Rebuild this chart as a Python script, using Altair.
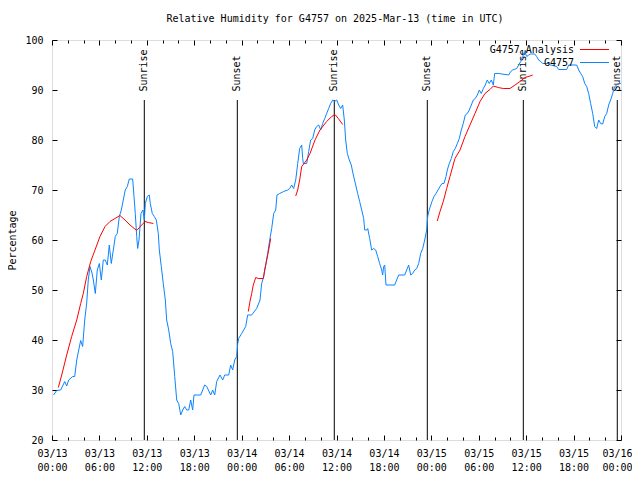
import altair as alt
import pandas as pd

# ---- data (hours since 2025-03-13 00:00 UTC, relative humidity %) ----
obs_hours = [0.2, 0.59, 1.10, 1.61, 1.86, 2.11, 2.62, 2.87, 3.13, 3.38, 3.63, 3.88, 4.14, 4.39, 4.59, 4.81,
             5.06, 5.23, 5.48, 5.73, 5.99, 6.24, 6.49, 6.74, 7.00, 7.25, 7.50, 7.76, 8.01, 8.26, 8.52, 8.77,
             9.02, 9.27, 9.53, 9.78, 10.21, 10.38, 10.54, 10.72, 10.84, 11.01, 11.26, 11.51, 11.68, 11.81,
             12.06, 12.31, 12.44, 12.69, 12.94, 13.20, 13.45, 13.58, 13.83, 14.08, 14.34, 14.51, 14.77,
             15.02, 15.27, 15.53, 15.78, 16.03, 16.29, 16.54, 16.79, 17.04, 17.30, 17.55, 17.80, 17.97,
             18.82, 19.32, 19.58, 20.08, 20.33, 20.59, 20.84, 21.26, 21.60, 21.85, 22.36, 22.61, 22.86,
             23.12, 23.37, 23.50, 23.62, 24.00, 24.51, 24.76, 25.26, 25.90, 26.32, 26.53, 26.79, 27.04,
             27.29, 27.55, 27.80, 28.05, 28.31, 28.47, 28.81, 29.32, 29.82, 30.08, 30.33, 30.58, 30.84,
             31.09, 31.34, 31.60, 31.72, 31.80, 32.23, 32.48, 32.73, 32.99, 33.24, 33.49, 33.75, 34.00,
             34.25, 34.51, 34.76, 35.01, 35.26, 35.52, 35.77, 36.02, 36.28, 36.53, 36.78, 36.99, 37.16,
             37.37, 37.62, 37.87, 38.13, 38.43, 38.68, 38.93, 39.19, 39.44, 39.57, 39.82, 39.95, 40.20,
             40.45, 40.71, 40.96, 41.21, 41.46, 41.72, 41.84, 41.97, 42.10, 42.26, 43.36, 43.61, 43.87,
             44.63, 44.88, 45.13, 45.39, 45.64, 45.89, 46.15, 46.40, 46.65, 46.91, 47.16, 47.41, 47.54,
             47.67, 47.83, 48.08, 48.34, 48.59, 48.84, 49.10, 49.35, 49.60, 49.86, 50.02, 50.27, 50.53,
             50.78, 51.03, 51.29, 51.54, 51.79, 52.04, 52.30, 52.55, 52.80, 53.06, 53.31, 53.56, 53.82,
             54.07, 54.32, 54.58, 54.83, 55.08, 55.33, 55.59, 55.84, 56.02, 56.52, 57.79, 58.04, 58.29,
             58.80, 59.05, 59.31, 59.56, 59.81, 60.07, 60.32, 60.57, 61.08, 61.33, 61.58, 61.84, 62.09,
             62.85, 63.10, 63.86, 64.11, 65.13, 65.38, 66.39, 66.65, 66.90, 67.15, 67.41, 67.66, 67.91,
             68.16, 68.42, 68.67, 68.92, 69.18, 69.43, 69.68, 69.94, 70.19, 70.44, 70.69, 70.95, 71.20,
             71.45, 71.71, 71.96]
obs_values = [29.0, 29.9, 30.0, 31.7, 30.8, 32.0, 32.7, 32.7, 36.0, 38.0, 39.9, 38.7, 44.0, 47.4, 52.0, 54.7,
              53.4, 52.0, 49.3, 54.0, 55.3, 52.0, 56.0, 56.0, 55.0, 59.0, 55.3, 58.0, 60.7, 61.3, 64.7, 66.0,
              68.0, 70.0, 70.7, 72.2, 72.2, 68.7, 65.3, 60.7, 58.3, 60.0, 65.3, 66.0, 64.0, 67.3,
              68.7, 69.0, 67.3, 65.3, 64.7, 64.0, 61.3, 58.0, 54.7, 51.3, 48.0, 44.0, 42.0,
              39.3, 37.7, 32.7, 28.0, 27.3, 25.0, 26.0, 26.7, 26.0, 26.0, 28.0, 26.0, 29.0,
              29.0, 31.0, 30.7, 29.0, 30.0, 29.0, 31.7, 33.0, 32.0, 33.0, 33.0, 35.0, 34.0,
              36.0, 36.7, 39.3, 40.3, 41.3, 42.7, 45.0, 45.0, 46.3, 48.0, 51.3, 52.7, 55.0,
              57.3, 60.0, 62.3, 65.3, 66.0, 69.0, 69.3, 69.7, 70.0, 70.3, 71.0, 70.3, 72.0,
              75.3, 78.3, 79.0, 76.3, 75.3, 75.3, 77.7, 80.0, 80.3, 82.0, 82.7, 83.0, 82.0,
              83.3, 84.3, 85.3, 86.3, 87.3, 88.0, 87.7, 88.0, 87.0, 86.3, 87.0, 84.0, 80.0,
              77.3, 76.0, 75.0, 73.0, 71.0, 69.3, 67.7, 66.0, 64.3, 62.0, 62.0, 62.3, 60.3,
              58.0, 58.3, 58.0, 56.7, 55.3, 54.0, 53.0, 54.7, 55.0, 51.0, 51.0, 52.0, 53.0,
              53.0, 54.0, 55.0, 53.0, 53.3, 54.0, 54.3, 55.3, 57.3, 58.3, 60.0, 62.0, 64.7,
              65.7, 66.5, 67.7, 68.7, 69.3, 70.0, 70.7, 71.3, 71.3, 72.7, 74.0, 75.3, 76.3,
              77.7, 78.3, 79.3, 80.3, 82.0, 83.3, 85.0, 85.3, 86.0, 87.0, 88.0, 88.3, 89.0,
              90.0, 89.3, 90.3, 91.0, 92.0, 91.3, 92.0, 91.0, 93.3, 93.3, 93.0, 93.7, 94.0,
              94.3, 95.0, 95.7, 96.7, 97.7, 96.7, 97.0, 97.2, 97.2, 96.7, 96.0, 95.7, 95.3,
              95.3, 95.0, 94.7, 94.1, 94.1, 95.0, 95.0, 94.0, 93.3, 92.7, 91.3, 90.7, 89.3,
              87.3, 85.3, 82.7, 82.3, 84.0, 83.3, 83.2, 84.7, 85.3, 87.0, 88.0, 89.3, 90.7,
              91.0, 91.3, 91.3]

ana_segment = [1] * 22 + [2] * 11 + [3] * 14 + [4] * 22
ana_hours = [0.80, 1.23, 1.86, 2.49, 3.13, 3.63, 3.96, 4.39, 4.90, 5.44, 6.07, 6.71, 7.34, 7.97, 8.60,
             9.24, 9.87, 10.72, 11.35, 11.77, 12.19, 12.82,
             24.84, 25.05, 25.27, 25.47, 25.78, 26.10, 26.74, 26.91, 27.17, 27.42, 27.67,
             30.84, 31.09, 31.34, 31.60, 31.89, 32.23, 32.65, 33.28, 33.91, 34.76, 35.39, 35.81, 36.23, 36.78,
             48.75, 49.10, 49.51, 49.94, 50.36, 50.99, 51.63, 52.26, 52.89, 53.52, 54.16, 54.79, 55.42,
             55.84, 56.47, 57.10, 57.95, 58.59, 59.22, 59.85, 60.48, 60.83]
ana_values = [30.5, 33.0, 37.0, 40.7, 44.0, 47.3, 49.3, 52.7, 55.7, 58.0, 60.7, 62.7, 63.7, 64.3, 64.9,
              64.0, 63.0, 61.9, 63.0, 63.7, 63.5, 63.3,
              45.7, 47.7, 49.3, 51.0, 52.5, 52.3, 52.3, 54.0, 56.0, 58.0, 60.3,
              68.8, 70.0, 72.0, 74.7, 75.3, 76.0, 77.3, 80.0, 82.0, 83.7, 84.7, 85.1, 84.3, 83.1,
              63.8, 65.7, 67.7, 70.3, 72.7, 76.3, 78.0, 80.7, 83.0, 85.3, 87.7, 89.3, 90.1,
              90.8, 90.5, 90.3, 90.3, 91.0, 91.7, 92.5, 92.8, 93.0]

sun_hours = [11.68, 23.45, 35.72, 47.49, 59.64, 71.53]
sun_labels = ["Sunrise", "Sunset", "Sunrise", "Sunset", "Sunrise", "Sunset"]
sun_line_top = [88] * 6
sun_line_bottom = [20] * 6

major_ticks = list(range(0, 73, 6))
minor_ticks = [h for h in range(0, 73, 2) if h % 6]
y_ticks = list(range(20, 101, 10))

series_names = ["G4757 Analysis", "G4757"]
title_text = "Relative Humidity for G4757 on 2025-Mar-13 (time in UTC)"

# ---- styling ----
FONT = "DejaVu Sans Mono"
FS = 10
BLUE = "#0a84ff"
RED = "#ff0000"
W, H = 569, 400

obs = pd.DataFrame({"h": obs_hours, "v": obs_values})
ana = pd.DataFrame({"h": ana_hours, "v": ana_values, "seg": ana_segment})
sun = pd.DataFrame({"h": sun_hours, "label": sun_labels, "top": sun_line_top, "bottom": sun_line_bottom})

xs = alt.Scale(domain=[0, 72], nice=False, zero=False)
ys = alt.Scale(domain=[20, 100], nice=False, zero=False)

label_expr = ("['03/' + (13 + floor(datum.value / 24)), "
              "(datum.value % 24 < 10 ? '0' : '') + (datum.value % 24) + ':00']")

common = dict(domain=False, grid=False, tickColor="black", tickWidth=1, title=None)

ax_bottom_major = alt.Axis(orient="bottom", values=major_ticks, tickSize=5, offset=-5,
                           labelExpr=label_expr, labelFont=FONT, labelFontSize=FS, labelColor="black",
                           labelPadding=8, labelAngle=0, labelAlign="center", labelBaseline="top",
                           labelLineHeight=14, labelFlush=False, labelOverlap=False,
                           labelOffset={"condition": {"test": "datum.value == 72", "value": -4}, "value": 0},
                           **common)
ax_bottom_minor = alt.Axis(orient="bottom", values=minor_ticks, tickSize=3, offset=-3, labels=False, **common)
ax_top_major = alt.Axis(orient="top", values=major_ticks, tickSize=5, offset=-5, labels=False, **common)
ax_top_minor = alt.Axis(orient="top", values=minor_ticks, tickSize=3, offset=-3, labels=False, **common)
ax_left = alt.Axis(orient="left", values=y_ticks, tickSize=5, offset=-5, labelFont=FONT, labelFontSize=FS,
                   labelColor="black", labelPadding=9, labelBaseline="middle", labelFlush=False,
                   domain=False, grid=False, tickColor="black", tickWidth=1,
                   title="Percentage", titleFont=FONT, titleFontSize=FS, titleFontWeight="normal",
                   titleColor="black", titleAngle=270, titleX=-45, titleY=200, titleAlign="center",
                   titleBaseline="middle")
ax_right = alt.Axis(orient="right", values=y_ticks, tickSize=5, offset=-5, labels=False, **common)

rules = alt.Chart(sun).mark_rule(color="black", strokeWidth=1).encode(
    x=alt.X("h:Q", scale=xs, axis=ax_top_major),
    y=alt.Y("top:Q", scale=ys, axis=None),
    y2="bottom:Q",
)
sun_text = alt.Chart(sun).mark_text(angle=270, align="left", baseline="middle", font=FONT,
                                    fontSize=FS, color="black").encode(
    x=alt.X("h:Q", scale=xs, axis=ax_top_minor),
    y=alt.value(51.5),
    text="label:N",
)
obs_line = alt.Chart(obs).mark_line(color=BLUE, strokeWidth=1).encode(
    x=alt.X("h:Q", scale=xs, axis=ax_bottom_major),
    y=alt.Y("v:Q", scale=ys, axis=ax_left),
)
ana_line = alt.Chart(ana).mark_line(color=RED, strokeWidth=1).encode(
    x=alt.X("h:Q", scale=xs, axis=ax_bottom_minor),
    y=alt.Y("v:Q", scale=ys, axis=ax_right),
    detail="seg:N",
)

title_mark = alt.Chart(pd.DataFrame({"t": [title_text]})).mark_text(
    align="center", baseline="middle", font=FONT, fontSize=FS, color="black").encode(
    x=alt.value(283), y=alt.value(-21), text="t:N")
leg_txt1 = alt.Chart(pd.DataFrame({"t": [series_names[0]]})).mark_text(
    align="right", baseline="middle", font=FONT, fontSize=FS, color="black").encode(
    x=alt.value(522), y=alt.value(9.5), text="t:N")
leg_txt2 = alt.Chart(pd.DataFrame({"t": [series_names[1]]})).mark_text(
    align="right", baseline="middle", font=FONT, fontSize=FS, color="black").encode(
    x=alt.value(522), y=alt.value(22.5), text="t:N")
leg_rule1 = alt.Chart(pd.DataFrame({"t": [series_names[0]]})).mark_rule(color=RED, strokeWidth=1).encode(
    x=alt.value(528), x2=alt.value(557), y=alt.value(9.5))
leg_rule2 = alt.Chart(pd.DataFrame({"t": [series_names[1]]})).mark_rule(color=BLUE, strokeWidth=1).encode(
    x=alt.value(528), x2=alt.value(557), y=alt.value(22.5))

chart = alt.layer(
    rules, sun_text, obs_line, ana_line, title_mark, leg_txt1, leg_txt2, leg_rule1, leg_rule2
).resolve_scale(x="shared", y="shared").resolve_axis(x="independent", y="independent").properties(
    width=W, height=H,
    autosize="none",
    padding={"left": 44, "top": 32, "right": 11, "bottom": 33},
).configure_view(stroke="black", strokeWidth=1).configure(background="white")

chart.save("out.html", embed_options={"renderer": "svg", "actions": False})
